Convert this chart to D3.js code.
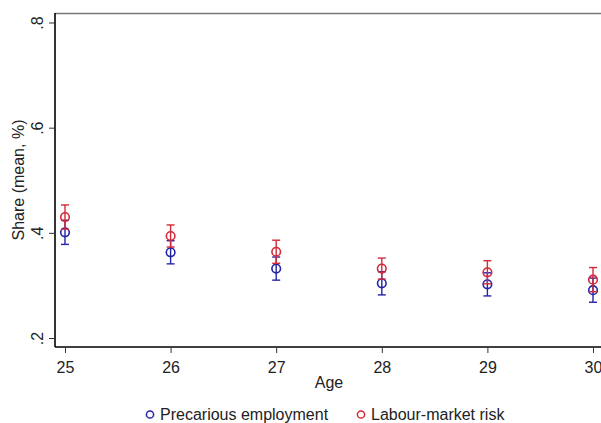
<!DOCTYPE html>
<html>
<head>
<meta charset="utf-8">
<script src="https://cdn.jsdelivr.net/npm/d3@7"></script>
<style>
  body { margin: 0; background: #fff; }
  text { font-family: "Liberation Sans", Arial, sans-serif; fill: #222; }
</style>
</head>
<body>
<div id="chart"></div>
<script>
// Age groups
const ages = [25, 26, 27, 28, 29, 30];
// mean share and 95% CI bounds
const precMean = [0.401, 0.363, 0.332, 0.304, 0.302, 0.291];
const precLow  = [0.378, 0.341, 0.310, 0.282, 0.280, 0.268];
const precHigh = [0.424, 0.385, 0.354, 0.326, 0.324, 0.314];
const riskMean = [0.430, 0.394, 0.364, 0.332, 0.325, 0.311];
const riskLow  = [0.407, 0.373, 0.342, 0.312, 0.303, 0.288];
const riskHigh = [0.453, 0.415, 0.386, 0.352, 0.347, 0.334];
const yTicks = [0.2, 0.4, 0.6, 0.8];
const yTickLabels = [".2", ".4", ".6", ".8"];

const W = 601, H = 423;
const blue = "#2424a8", red = "#d42a38";
const fs = 16;

const svg = d3.select("#chart").append("svg")
  .attr("width", W).attr("height", H);

const x = d3.scaleLinear().domain([25, 30]).range([65, 593]);
const y = d3.scaleLinear().domain([0.2, 0.8]).range([338, 22.5]);

// plot frame: grey top line, black axes
svg.append("line")
  .attr("x1", 55).attr("x2", W).attr("y1", 13.5).attr("y2", 13.5)
  .attr("stroke", "#777").attr("stroke-width", 1.5);

const xAxis = svg.append("g").attr("transform", "translate(0,347)")
  .call(d3.axisBottom(x).tickValues(ages).tickFormat(d3.format("d")).tickSize(6).tickSizeOuter(0));
xAxis.select(".domain").attr("d", `M55,0H${W}`).attr("stroke", "#000").attr("stroke-width", 1.6);
xAxis.selectAll(".tick line").attr("stroke", "#333");
xAxis.selectAll(".tick text").attr("font-size", fs).attr("dy", "0.72em").attr("y", 14)
  .attr("font-family", "Liberation Sans, Arial, sans-serif").attr("fill", "#222");

const yAxis = svg.append("g").attr("transform", "translate(55,0)")
  .call(d3.axisLeft(y).tickValues(yTicks).tickFormat((d, i) => yTickLabels[i]).tickSize(6).tickSizeOuter(0));
yAxis.select(".domain").attr("d", "M0,13V347").attr("stroke", "#000").attr("stroke-width", 1.6);
yAxis.selectAll(".tick line").attr("stroke", "#333");
yAxis.selectAll(".tick text")
  .attr("x", null).attr("dy", null)
  .attr("transform", "translate(-12,0) rotate(-90)")
  .attr("text-anchor", "middle")
  .attr("font-size", fs)
  .attr("font-family", "Liberation Sans, Arial, sans-serif").attr("fill", "#222");

// axis titles
svg.append("text")
  .attr("transform", `translate(24,180) rotate(-90)`)
  .attr("text-anchor", "middle").attr("font-size", fs)
  .text("Share (mean, %)");
svg.append("text")
  .attr("x", 329).attr("y", 388)
  .attr("text-anchor", "middle").attr("font-size", fs)
  .text("Age");

function drawSeries(mean, low, high, color) {
  const g = svg.append("g");
  const capW = 4;
  ages.forEach((a, i) => {
    const cx = x(a);
    g.append("line").attr("x1", cx).attr("x2", cx)
      .attr("y1", y(low[i])).attr("y2", y(high[i]))
      .attr("stroke", color).attr("stroke-width", 1.4);
    [low[i], high[i]].forEach(v => {
      g.append("line").attr("x1", cx - capW).attr("x2", cx + capW)
        .attr("y1", y(v)).attr("y2", y(v))
        .attr("stroke", color).attr("stroke-width", 1.4);
    });
    g.append("circle").attr("cx", cx).attr("cy", y(mean[i])).attr("r", 4.3)
      .attr("fill", "none").attr("stroke", color).attr("stroke-width", 1.6);
  });
}
drawSeries(precMean, precLow, precHigh, blue);
drawSeries(riskMean, riskLow, riskHigh, red);

// legend
const legend = [
  { label: "Precarious employment", color: blue, cx: 150 },
  { label: "Labour-market risk", color: red, cx: 361 }
];
legend.forEach(d => {
  svg.append("circle").attr("cx", d.cx).attr("cy", 414.5).attr("r", 3.6)
    .attr("fill", "none").attr("stroke", d.color).attr("stroke-width", 1.5);
  svg.append("text").attr("x", d.cx + 10).attr("y", 420)
    .attr("font-size", fs).text(d.label);
});
</script>
</body>
</html>
